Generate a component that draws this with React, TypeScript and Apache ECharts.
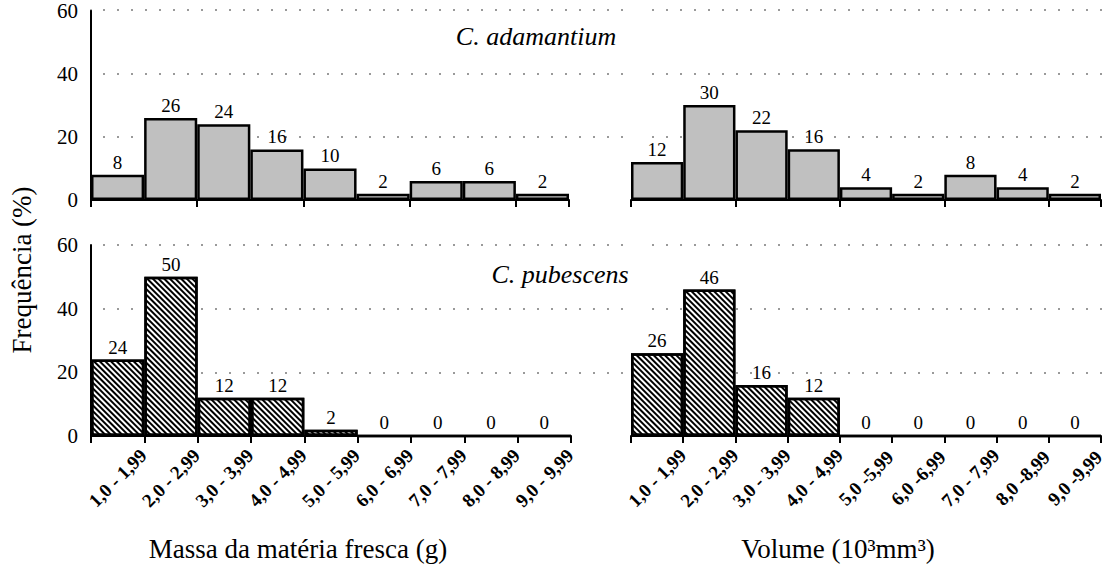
import { useEffect, useRef } from "react";
import * as echarts from "echarts";

const massCategories = ["1,0 - 1,99", "2,0 - 2,99", "3,0 - 3,99", "4,0 - 4,99", "5,0 - 5,99", "6,0 - 6,99", "7,0 - 7,99", "8,0 - 8,99", "9,0 - 9,99"];
const volumeCategories = ["1,0 - 1,99", "2,0 - 2,99", "3,0 - 3,99", "4,0 - 4,99", "5,0 -5,99", "6,0 -6,99", "7,0 - 7,99", "8,0 -8,99", "9,0 -9,99"];
const adamantiumMass = [8, 26, 24, 16, 10, 2, 6, 6, 2];
const adamantiumVolume = [12, 30, 22, 16, 4, 2, 8, 4, 2];
const pubescensMass = [24, 50, 12, 12, 2, 0, 0, 0, 0];
const pubescensVolume = [26, 46, 16, 12, 0, 0, 0, 0, 0];
const yMin = 0;
const yMax = 60;
const yStep = 20;

const SERIF = "Liberation Serif";

export default function App() {
  const ref = useRef<HTMLDivElement>(null);
  useEffect(() => {
    document.body.style.margin = "0";
    if (!ref.current) return;
    const chart = echarts.init(ref.current, undefined, { renderer: "svg" });

    const grids = [
      { left: 91, top: 10, width: 478, height: 190 },
      { left: 631, top: 10, width: 470, height: 190 },
      { left: 91, top: 245, width: 480, height: 191 },
      { left: 631, top: 245, width: 470, height: 191 },
      { left: 91, top: 10, width: 536, height: 190 * 2 / 3 },
      { left: 640, top: 10, width: 465, height: 190 * 2 / 3 },
      { left: 91, top: 245, width: 536, height: 191 * 2 / 3 },
      { left: 640, top: 245, width: 465, height: 191 * 2 / 3 },
    ];

    const catAxis = (gi: number, data: string[], showLabels: boolean) => ({
      type: "category",
      gridIndex: gi,
      data,
      boundaryGap: true,
      axisLine: { show: true, lineStyle: { color: "#000", width: 2 } },
      axisTick: { show: true, length: 7, alignWithLabel: false, lineStyle: { color: "#000", width: 2 } },
      axisLabel: showLabels
        ? {
            show: true,
            interval: 0,
            rotate: 45,
            align: "center",
            verticalAlign: "middle",
            margin: 42,
            color: "#000",
            fontSize: 19,
            fontWeight: "bold",
            fontFamily: SERIF,
          }
        : { show: false },
      splitLine: { show: false },
    });

    const valAxis = (gi: number, showLine: boolean) => ({
      type: "value",
      gridIndex: gi,
      min: yMin,
      max: yMax,
      interval: yStep,
      show: showLine,
      axisLine: { show: showLine, lineStyle: { color: "#000", width: 2 } },
      axisTick: { show: false },
      axisLabel: { show: showLine, color: "#000", fontSize: 21, fontFamily: SERIF, margin: 13 },
      splitLine: { show: false },
    });

    const gridLineX = (gi: number) => ({ type: "value", gridIndex: gi, show: false, min: 0, max: 1 });
    const gridLineY = (gi: number) => ({
      type: "value",
      gridIndex: gi,
      min: yStep,
      max: yMax,
      interval: yStep,
      axisLine: { show: false },
      axisTick: { show: false },
      axisLabel: { show: false },
      splitLine: { show: true, lineStyle: { color: "#9a9a9a", width: 2, type: [2, 12], dashOffset: -12 } },
    });

    const label = { show: true, position: "top", distance: 3, color: "#000", fontSize: 19, fontFamily: SERIF };
    const grayStyle = { color: "#c0c0c0", borderColor: "#000", borderWidth: 2.5 };
    const hatchStyle = {
      color: "#fff",
      borderColor: "#000",
      borderWidth: 2.5,
      decal: {
        symbol: "rect",
        symbolSize: 1,
        dashArrayX: [1, 0],
        dashArrayY: [1.6, 1.8],
        rotation: Math.PI / 4,
        color: "#000",
        backgroundColor: "#fff",
      },
    };

    const bar = (i: number, data: number[], style: any) => ({
      type: "bar",
      xAxisIndex: i,
      yAxisIndex: i,
      data,
      barCategoryGap: "0%",
      itemStyle: style,
      label,
      z: 3,
    });

    chart.setOption({
      animation: false,
      backgroundColor: "#fff",
      textStyle: { fontFamily: SERIF },
      grid: grids,
      xAxis: [
        catAxis(0, massCategories, false),
        catAxis(1, volumeCategories, false),
        catAxis(2, massCategories, true),
        catAxis(3, volumeCategories, true),
        gridLineX(4),
        gridLineX(5),
        gridLineX(6),
        gridLineX(7),
      ],
      yAxis: [
        valAxis(0, true),
        valAxis(1, false),
        valAxis(2, true),
        valAxis(3, false),
        gridLineY(4),
        gridLineY(5),
        gridLineY(6),
        gridLineY(7),
      ],
      series: [
        bar(0, adamantiumMass, grayStyle),
        bar(1, adamantiumVolume, grayStyle),
        bar(2, pubescensMass, hatchStyle),
        bar(3, pubescensVolume, hatchStyle),
      ],
      graphic: [
        {
          type: "text",
          x: 22,
          y: 270,
          rotation: Math.PI / 2,
          style: { text: "Frequência (%)", fontFamily: SERIF, fontSize: 27, fill: "#000", align: "center", verticalAlign: "middle" },
        },
        {
          type: "text",
          x: 536,
          y: 36,
          style: { text: "C. adamantium", fontFamily: SERIF, fontSize: 26, fontStyle: "italic", fill: "#000", align: "center", verticalAlign: "middle" },
        },
        {
          type: "text",
          x: 560,
          y: 274,
          style: { text: "C. pubescens", fontFamily: SERIF, fontSize: 26, fontStyle: "italic", fill: "#000", align: "center", verticalAlign: "middle" },
        },
        {
          type: "text",
          x: 298,
          y: 549,
          style: { text: "Massa da matéria fresca (g)", fontFamily: SERIF, fontSize: 27, fill: "#000", align: "center", verticalAlign: "middle" },
        },
        {
          type: "text",
          x: 838,
          y: 549,
          style: { text: "Volume (10³mm³)", fontFamily: SERIF, fontSize: 27, fill: "#000", align: "center", verticalAlign: "middle" },
        },
      ],
    });
    return () => chart.dispose();
  }, []);
  return <div ref={ref} style={{ width: 1110, height: 573 }} />;
}
